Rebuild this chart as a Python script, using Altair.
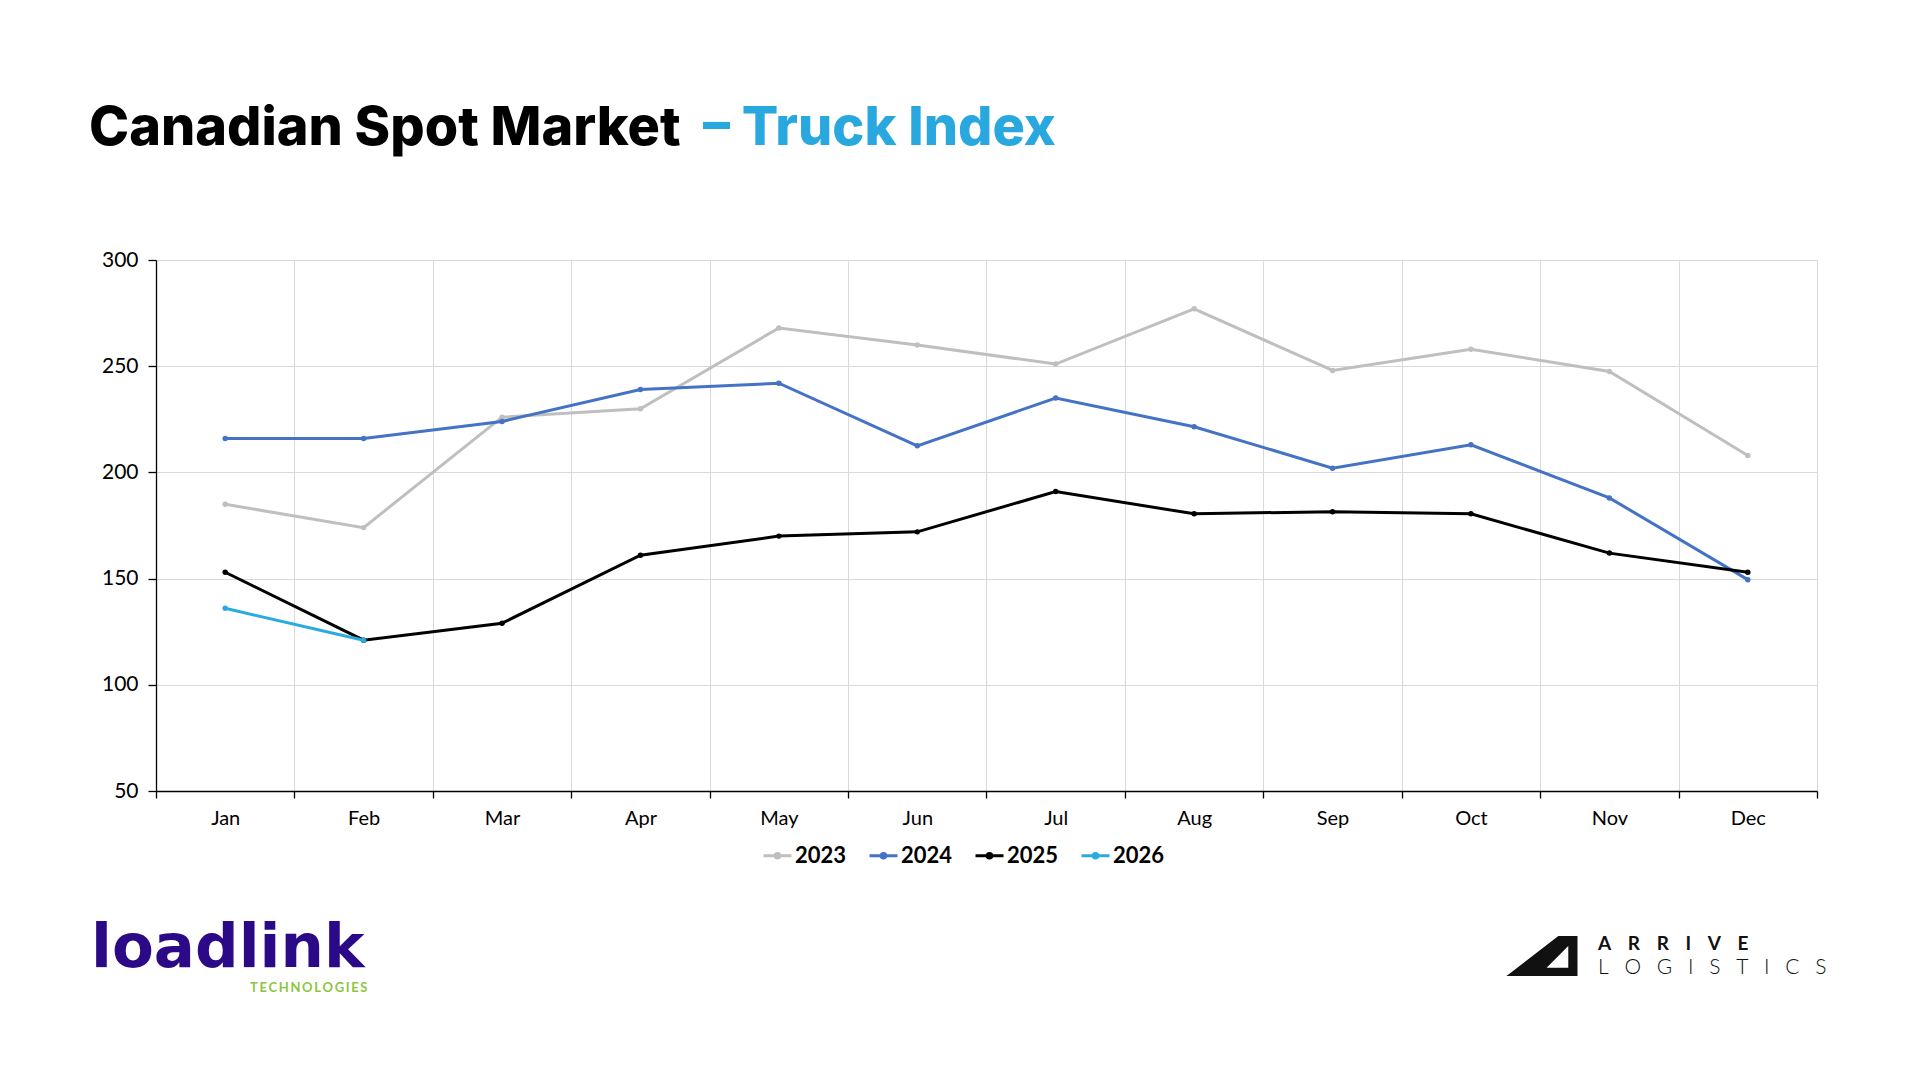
import altair as alt
import pandas as pd

months = ["Jan", "Feb", "Mar", "Apr", "May", "Jun", "Jul", "Aug", "Sep", "Oct", "Nov", "Dec"]
years = ["2023", "2024", "2025", "2026"]
colors = ["#bfbfbf", "#4472c4", "#000000", "#29abe2"]

v2023 = [185, 174, 226, 230, 268, 260, 251, 277, 248, 258, 247.5, 208]
v2024 = [216, 216, 224, 239, 242, 212.5, 235, 221.5, 202, 213, 188, 149.5]
v2025 = [153, 121, 129, 161, 170, 172, 191, 180.5, 181.5, 180.5, 162, 153]
v2026 = [136, 121]

y_ticks = [50, 100, 150, 200, 250, 300]

series = {"2023": v2023, "2024": v2024, "2025": v2025, "2026": v2026}
rows = []
for yr in years:
    for m, v in zip(months, series[yr]):
        rows.append({"month": m, "value": v, "year": yr})
df = pd.DataFrame(rows)

W, H = 1661, 531
FONT = "Lato"
TFONT = "Inter"

legend_symbol = "M-1,0 H1 M-0.16,0 A0.16,0.16 0 1,0 0.16,0 A0.16,0.16 0 1,0 -0.16,0"

x_enc = alt.X(
    "month:N",
    sort=months,
    scale=alt.Scale(type="band", domain=months, paddingInner=0, paddingOuter=0),
    axis=alt.Axis(
        title=None, labelAngle=0, tickBand="extent", grid=True, gridColor="#d9d9d9",
        domainColor="#000000", tickColor="#000000", tickSize=7, domainWidth=1.3, tickWidth=1.3,
        labelFont=FONT, labelFontSize=20, labelColor="#000000", labelPadding=10,
    ),
)
y_enc = alt.Y(
    "value:Q",
    scale=alt.Scale(domain=[50, 300], nice=False, zero=False),
    axis=alt.Axis(
        title=None, values=y_ticks, grid=True, gridColor="#d9d9d9",
        domainColor="#000000", tickColor="#000000", tickSize=8, domainWidth=1.3, tickWidth=1.3,
        labelFont=FONT, labelFontSize=21, labelColor="#000000", labelPadding=10,
    ),
)
color_enc = alt.Color(
    "year:N",
    scale=alt.Scale(domain=years, range=colors),
    legend=alt.Legend(
        title=None, orient="none", direction="horizontal", legendX=606, legendY=580,
        symbolType=legend_symbol, symbolSize=784, symbolStrokeWidth=3,
        labelFont=FONT, labelFontSize=22, labelFontWeight="bold", labelColor="#000000",
        labelOffset=2, columnPadding=16,
    ),
)

lines = alt.Chart(df).mark_line(strokeWidth=3).encode(x=x_enc, y=y_enc, color=color_enc)
points = alt.Chart(df).mark_point(filled=True, size=30, opacity=1).encode(
    x=alt.X("month:N", sort=months), y="value:Q",
    color=alt.Color("year:N", legend=None),
)

one = pd.DataFrame({"k": [1]})

title_black = alt.Chart(one).mark_text(
    text="Canadian Spot Market", align="left", baseline="alphabetic",
    font=TFONT, fontSize=54, fontWeight=800, color="#000000",
).encode(x=alt.value(-67), y=alt.value(-115))
title_blue = alt.Chart(one).mark_text(
    text="\u2013 Truck Index", align="left", baseline="alphabetic",
    font=TFONT, fontSize=54, fontWeight=800, color="#29a8e0",
).encode(x=alt.value(547), y=alt.value(-115))

loadlink = alt.Chart(one).mark_text(
    text="loadlink", align="left", baseline="alphabetic",
    font="DejaVu Sans", fontSize=61, fontWeight="bold", color="#2c0a87",
).encode(x=alt.value(-65), y=alt.value(707))
tech = alt.Chart(one).mark_text(
    text="\u2009".join("TECHNOLOGIES"), align="left", baseline="alphabetic",
    font=FONT, fontSize=13, fontWeight="bold", color="#8cc63f",
).encode(x=alt.value(94), y=alt.value(732))

arrive = alt.Chart(one).mark_text(
    text="\u2002\u2009\u2009\u2009".join("ARRIVE"), align="left", baseline="alphabetic",
    font=FONT, fontSize=19, fontWeight="bold", color="#111111",
).encode(x=alt.value(1442), y=alt.value(690))
logistics = alt.Chart(one).mark_text(
    text="\u2002\u2009\u2009".join("LOGISTICS"), align="left", baseline="alphabetic",
    font=FONT, fontSize=21, fontWeight=300, color="#111111",
).encode(x=alt.value(1442), y=alt.value(714))

icon_path = "M-1,0.56 L0.46,-0.56 L1,-0.56 L1,0.56 Z M0.13,0.33 L0.74,0.33 L0.74,-0.28 Z"
icon = alt.Chart(one).mark_point(
    shape=icon_path, filled=True, size=5041, color="#111111", opacity=1, strokeWidth=0,
).encode(x=alt.value(1386), y=alt.value(696))

chart = alt.layer(
    lines, points, title_black, title_blue, loadlink, tech, arrive, logistics, icon
).properties(
    width=W, height=H,
    autosize=alt.AutoSizeParams(type="none"),
    padding={"left": 148, "top": 252, "right": 95, "bottom": 270},
    background="#ffffff",
).configure_view(stroke="#d9d9d9")

chart.save("out.html", embed_options={"renderer": "svg", "actions": False})
